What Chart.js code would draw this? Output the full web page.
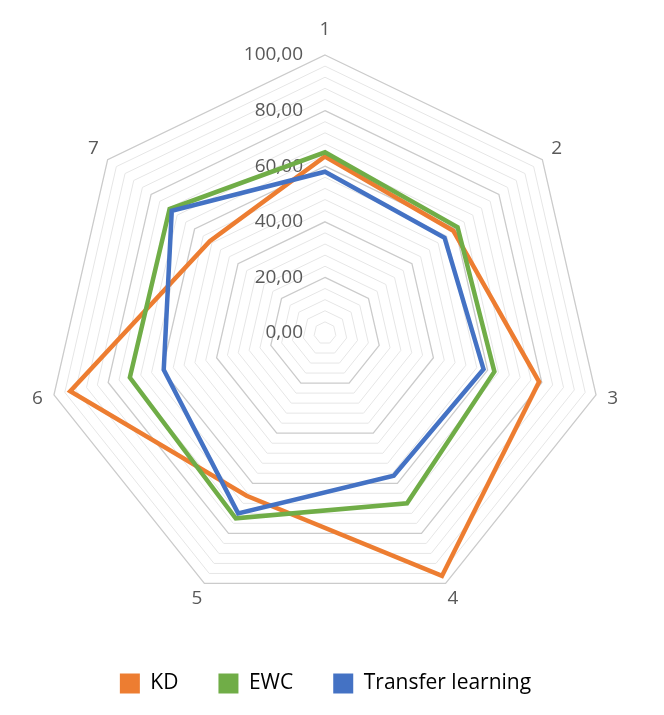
<!DOCTYPE html>
<html>
<head>
<meta charset="utf-8">
<script src="https://cdn.jsdelivr.net/npm/chart.js@4"></script>
<style>
html,body{margin:0;padding:0;background:#ffffff;}
#wrap{width:664px;height:715px;position:relative;}
</style>
</head>
<body>
<div id="wrap"><canvas id="c"></canvas></div>
<script>
const categories = ['1', '2', '3', '4', '5', '6', '7'];
const seriesNames = ['KD', 'EWC', 'Transfer learning'];
const kdValues  = [63.5, 59, 79, 97, 65, 94, 53];
const ewcValues = [65, 61, 62.5, 68, 74, 72, 71.5];
const tlValues  = [58, 55, 58.5, 57, 72, 59.5, 70.5];
const tickValues = [0, 20, 40, 60, 80, 100];
const tickLabels = ['0,00', '20,00', '40,00', '60,00', '80,00', '100,00'];
const seriesColors = ['#ED7D31', '#70AD47', '#4472C4'];

const tickLabelPlugin = {
  id: 'tickLabels',
  beforeDatasetsDraw(chart) {
    const s = chart.scales.r, ctx = chart.ctx;
    ctx.save();
    ctx.font = '19px "Open Sans"';
    ctx.fillStyle = '#595959';
    ctx.textAlign = 'right';
    ctx.textBaseline = 'middle';
    tickValues.forEach((v, i) => {
      const p = s.getPointPositionForValue(0, v);
      ctx.fillText(tickLabels[i], p.x - 22, p.y);
    });
    ctx.restore();
  },
  afterDraw(chart) {
    const s = chart.scales.r, ctx = chart.ctx;
    ctx.save();
    ctx.font = '19px "Open Sans"';
    ctx.fillStyle = '#595959';
    ctx.textAlign = 'center';
    ctx.textBaseline = 'middle';
    categories.forEach((c, i) => {
      const a = s.getPointPosition(i, s.drawingArea);
      const dy = (a.y - s.yCenter) / s.drawingArea;
      const d = 17 + 8 * Math.pow(Math.max(0, -dy), 4);
      const p = s.getPointPosition(i, s.drawingArea + d);
      ctx.fillText(c, p.x, p.y);
    });
    ctx.restore();
  }
};

const valuesList = [kdValues, ewcValues, tlValues];
const datasets = seriesNames.map((name, i) => ({
  label: name,
  data: valuesList[i],
  borderColor: seriesColors[i],
  backgroundColor: seriesColors[i],
  borderWidth: 4.5,
  fill: false,
  pointRadius: 0,
  pointHoverRadius: 0,
  order: 2 - i
}));

new Chart(document.getElementById('c'), {
  type: 'radar',
  data: { labels: categories, datasets: datasets },
  options: {
    responsive: true,
    maintainAspectRatio: false,
    animation: false,
    layout: { padding: { left: 47, right: 60, top: 34, bottom: 11 } },
    scales: {
      r: {
        min: 0,
        max: 100,
        ticks: { stepSize: 4, display: false },
        angleLines: { display: false },
        pointLabels: { display: false },
        grid: {
          circular: false,
          color: (ctx) => (ctx.tick && Math.round(ctx.tick.value) % 20 === 0) ? '#cbcbcb' : '#e6e6e6',
          lineWidth: (ctx) => (ctx.tick && Math.round(ctx.tick.value) % 20 === 0) ? 1.3 : 1
        }
      }
    },
    plugins: {
      tooltip: { enabled: false },
      legend: {
        position: 'bottom',
        labels: {
          font: { family: 'Open Sans', size: 21 },
          color: '#000000',
          boxWidth: 20,
          boxHeight: 20,
          padding: 40,
          sort: (a, b) => a.datasetIndex - b.datasetIndex,
          generateLabels: (chart) => Chart.defaults.plugins.legend.labels.generateLabels(chart).map(l => Object.assign({}, l, { lineWidth: 0 }))
        }
      }
    }
  },
  plugins: [tickLabelPlugin]
});
</script>
</body>
</html>
